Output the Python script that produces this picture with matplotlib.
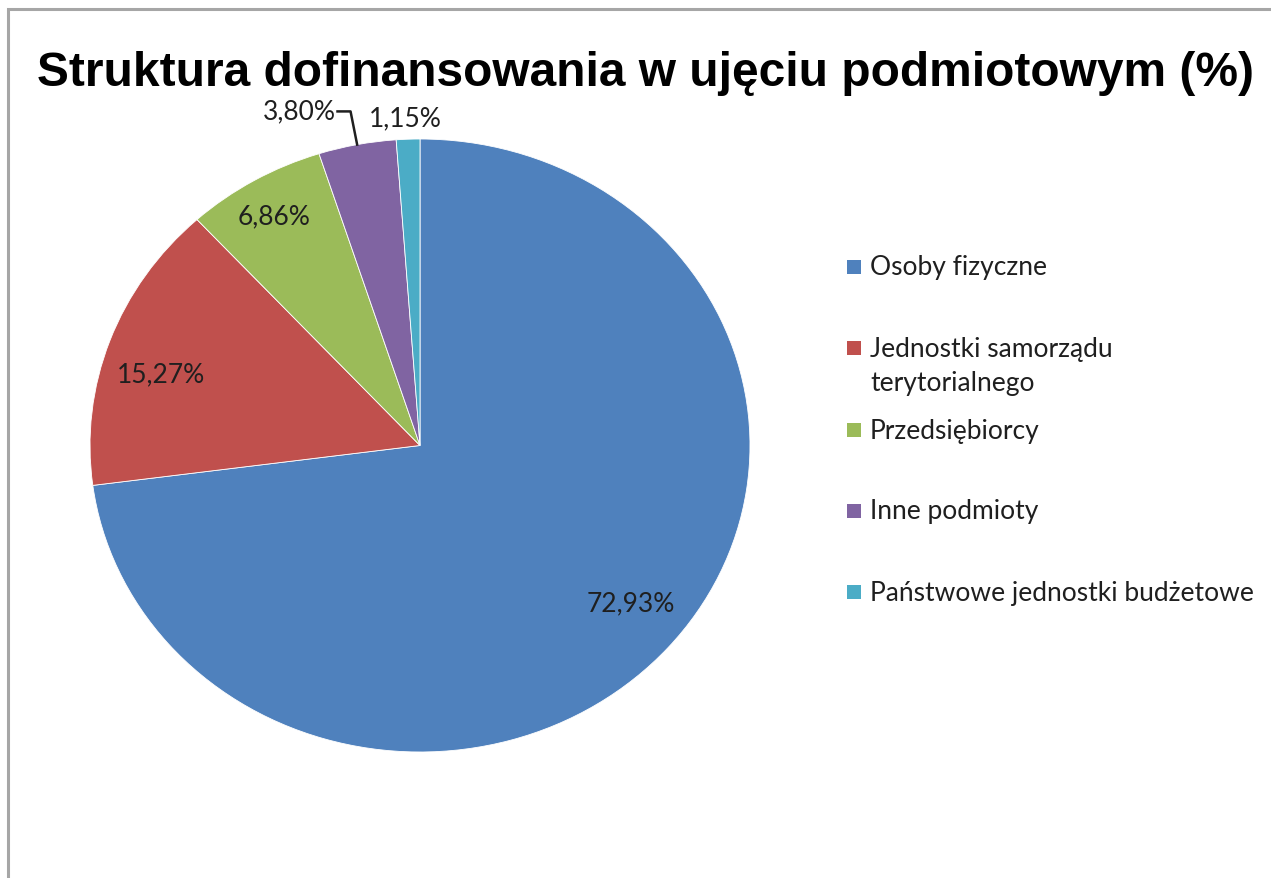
import numpy as np
import matplotlib.pyplot as plt
from matplotlib.patches import Rectangle

categories = ["Osoby fizyczne", "Jednostki samorządu\nterytorialnego", "Przedsiębiorcy",
              "Inne podmioty", "Państwowe jednostki budżetowe"]
shares = [72.93, 15.27, 6.86, 3.80, 1.15]
share_labels = ["72,93%", "15,27%", "6,86%", "3,80%", "1,15%"]
colors = ["#4F81BD", "#C0504D", "#9BBB59", "#8064A2", "#4BACC6"]

label_font = "Lato"
txt_color = "#1F1F1F"

fig = plt.figure(figsize=(12.71, 8.79), dpi=100)
fig.patches.append(Rectangle((8 / 1271, -0.05), 1.1, 1 - 10 / 879 + 0.05,
                             transform=fig.transFigure, fill=False,
                             edgecolor="#A6A6A6", linewidth=2.2))

fig.text(0.508, 0.916, "Struktura dofinansowania w ujęciu podmiotowym (%)",
         ha="center", va="center", fontsize=34.5, fontweight="bold",
         family="Liberation Sans")

ax = fig.add_axes([90 / 1271, 1 - 753 / 879, 660 / 1271, 613 / 879])
wedges, _ = ax.pie(shares, colors=colors, startangle=90, counterclock=False,
                   radius=1, wedgeprops=dict(edgecolor="white", linewidth=0.6))
ax.set_xlim(-1, 1)
ax.set_ylim(-1, 1)
ax.set_aspect("auto")
ax.axis("off")

# inside labels for the three big slices (distance, angle tweak in degrees)
placement = [(0.82, 2.4), (0.82, 3.4), (0.87, 0.3)]
for w, lab, (d, dth) in zip(wedges[:3], share_labels[:3], placement):
    th = np.deg2rad((w.theta1 + w.theta2) / 2 + dth)
    ax.text(d * np.cos(th), d * np.sin(th), lab, ha="center", va="center",
            fontsize=19, family=label_font, color=txt_color)

# outside labels for the two small slices
w = wedges[3]
th = np.deg2rad((w.theta1 + w.theta2) / 2)
ex, ey = np.cos(th), np.sin(th)
ax.plot([ex, ex - 0.02, -0.25], [ey, 1.09, 1.09], color=txt_color, lw=1.8,
        clip_on=False)
ax.text(-0.255, 1.092, share_labels[3], ha="right", va="center", fontsize=19,
        family=label_font, color=txt_color)
ax.text(-0.045, 1.07, share_labels[4], ha="center", va="center", fontsize=19,
        family=label_font, color=txt_color)

# legend
leg_y = [268, 349, 431, 512, 593]
for cat, c, y in zip(categories, colors, leg_y):
    fig.patches.append(Rectangle((847 / 1271, 1 - (y + 7) / 879), 14 / 1271, 14 / 879,
                                 transform=fig.transFigure, facecolor=c,
                                 edgecolor="none"))
    fig.text(870 / 1271, 1 - (y - 12) / 879 if "\n" in cat else 1 - y / 879, cat,
             ha="left", va="top" if "\n" in cat else "center",
             fontsize=19, family=label_font, color=txt_color, linespacing=1.45)

fig.savefig("out.png", dpi=100)
